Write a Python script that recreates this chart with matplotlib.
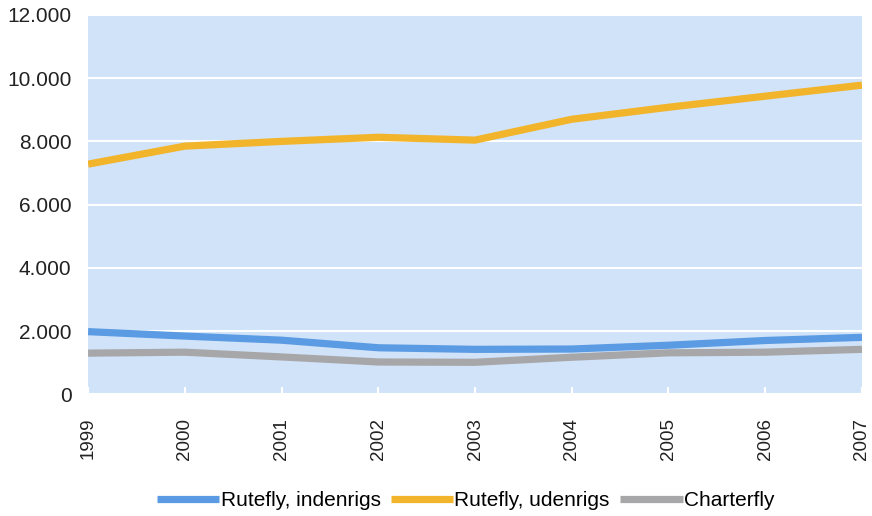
import matplotlib.pyplot as plt
from matplotlib.ticker import FuncFormatter

years = [1999, 2000, 2001, 2002, 2003, 2004, 2005, 2006, 2007]
rute_inden = [1980, 1840, 1710, 1470, 1420, 1430, 1550, 1700, 1800]
rute_uden = [7280, 7850, 8000, 8130, 8040, 8700, 9080, 9430, 9780]
charter = [1300, 1330, 1180, 1020, 1010, 1170, 1310, 1330, 1420]

labels = ["Rutefly, indenrigs", "Rutefly, udenrigs", "Charterfly"]
colors = ["#5b9be3", "#f2b42a", "#a7a7a9"]

plt.rcParams['font.family'] = ['Liberation Sans', 'DejaVu Sans']

fig = plt.figure(figsize=(8.72, 5.16), dpi=100)
ax = fig.add_axes([0.101, 0.236, 0.8875, 0.735])
ax.set_facecolor("#d0e3f8")

for series, lab, col in zip([rute_inden, rute_uden, charter], labels, colors):
    ax.plot(years, series, color=col, lw=5.2, label=lab, solid_capstyle="butt",
            solid_joinstyle="round", zorder=3)

ax.set_xlim(years[0], years[-1])
ax.set_ylim(0, 12000)
ax.set_yticks(range(0, 12001, 2000))
ax.yaxis.set_major_formatter(FuncFormatter(lambda v, p: f"{int(v):,}".replace(",", ".")))
ax.set_xticks(years)
ax.set_xticklabels([str(y) for y in years], rotation=90)

ax.grid(axis="y", color="white", lw=1.5, zorder=1)
ax.set_axisbelow(True)
for s in ax.spines.values():
    s.set_visible(False)

ax.tick_params(axis="y", length=0, labelsize=15, pad=12, colors="#222222")
ax.tick_params(axis="x", direction="in", length=5, width=1.5, color="white",
               labelsize=13.5, pad=17, labelcolor="#222222")

fig.legend(loc="lower center", bbox_to_anchor=(0.534, -0.025), ncol=3, frameon=False,
           fontsize=15, handlelength=3.0, handletextpad=0.05, columnspacing=0.5)

fig.savefig("out.png", dpi=100)
